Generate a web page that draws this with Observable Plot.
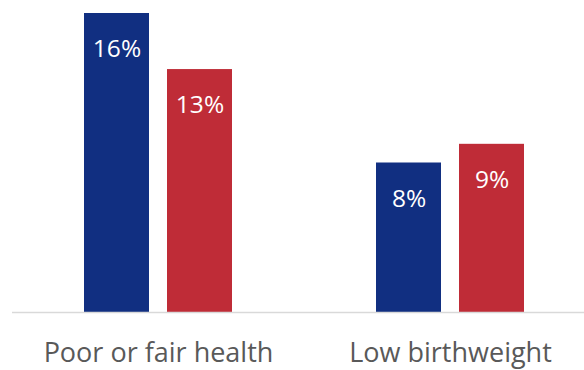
<!DOCTYPE html>
<html>
<head>
<meta charset="utf-8">
<script src="https://cdn.jsdelivr.net/npm/d3@7"></script>
<script src="https://cdn.jsdelivr.net/npm/@observablehq/plot@0.6"></script>
<style>
  html, body { margin: 0; padding: 0; background: #fff; overflow: hidden; }
  #chart { width: 584px; height: 370px; overflow: hidden; }
  #chart svg { max-width: none !important; }
</style>
</head>
<body>
<div id="chart"></div>
<script>
// Outcome categories along the bottom
const categories = ["Poor or fair health", "Low birthweight"];
// Two comparison series (blue, red)
const seriesNames = ["Series 1", "Series 2"];
const series1 = [16, 8];
const series2 = [13, 9];
const seriesColors = ["#112f81", "#bf2c37"];

const rows = categories.flatMap((c, i) => [
  {category: c, series: seriesNames[0], value: series1[i]},
  {category: c, series: seriesNames[1], value: series2[i]}
]);

const chart = Plot.plot({
  width: 596,
  height: 370,
  marginLeft: 12,
  marginRight: 0,
  marginTop: 13,
  marginBottom: 58,
  style: {fontFamily: "'Open Sans', sans-serif", background: "#fff", maxWidth: "none"},
  fx: {domain: categories, padding: 0, axis: null, label: null},
  x: {domain: seriesNames, paddingInner: 0.2169, paddingOuter: 0.867, axis: null},
  y: {domain: [0, 16], axis: null},
  color: {domain: seriesNames, range: seriesColors},
  marks: [
    Plot.barY(rows, {fx: "category", x: "series", y: "value", fill: "series"}),
    Plot.ruleY([0], {stroke: "#d9d9d9", strokeWidth: 1.3}),
    Plot.text(rows, {
      fx: "category", x: "series", y: "value",
      text: d => `${d.value}%`,
      fill: "white", fontSize: 24.5, dy: 36, lineAnchor: "middle"
    }),
    Plot.text(categories, {
      fx: d => d, text: d => d, frameAnchor: "bottom",
      fill: "#595959", fontSize: 27, lineAnchor: "top", dy: 30
    })
  ]
});

document.getElementById("chart").appendChild(chart);
</script>
</body>
</html>
